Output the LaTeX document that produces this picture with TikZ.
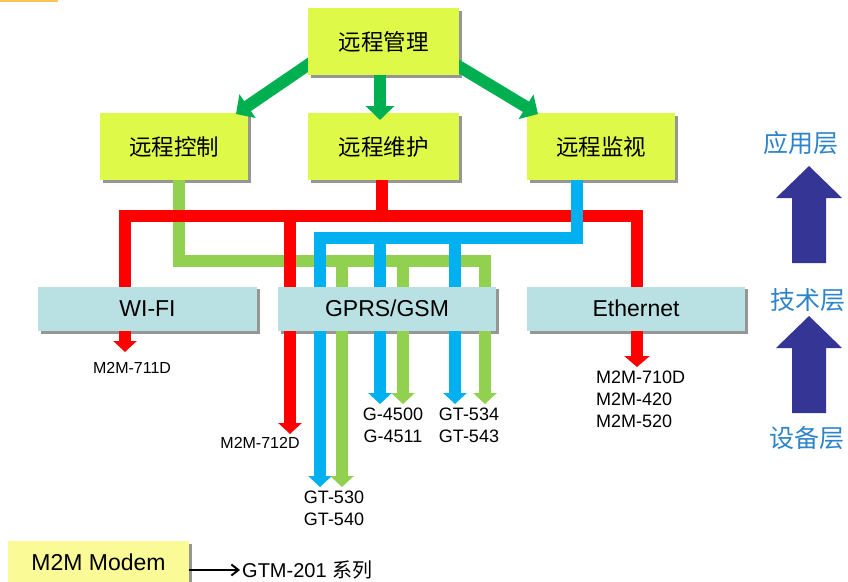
\documentclass[tikz,border=0pt]{standalone}
\usepackage{fontspec}
\setmainfont{Liberation Sans}
\newfontfamily\cjk{Noto Sans CJK SC}
\usetikzlibrary{arrows.meta}
\pgfdeclarelayer{shadowlayer}
\pgfdeclarelayer{linelayer}
\pgfdeclarelayer{toplayer}
\pgfsetlayers{shadowlayer,linelayer,main,toplayer}
\definecolor{boxyellow}{RGB}{223,249,72}
\definecolor{boxblue}{RGB}{185,224,227}
\definecolor{modemyellow}{RGB}{250,250,150}
\definecolor{lred}{RGB}{255,0,0}
\definecolor{lgreen}{RGB}{146,208,80}
\definecolor{lblue}{RGB}{0,176,240}
\definecolor{dgreen}{RGB}{0,176,80}
\definecolor{navy}{RGB}{53,53,150}
\definecolor{lvlblue}{RGB}{46,132,200}
\definecolor{shadowgray}{RGB}{150,150,150}
\definecolor{topline}{RGB}{255,195,90}
\begin{document}
\begin{tikzpicture}[x=1pt,y=-1pt,
  apbox/.style={rectangle, fill=boxyellow, minimum width=150pt, minimum height=67pt, inner sep=0pt, font=\fontsize{22.5}{26}\selectfont\cjk},
  techbox/.style={rectangle, fill=boxblue, minimum width=219pt, minimum height=44pt, inner sep=0pt, font=\fontsize{23}{27}\selectfont},
  modembox/.style={rectangle, fill=modemyellow, minimum width=181pt, minimum height=42pt, inner sep=0pt, font=\fontsize{23}{27}\selectfont},
  conn/.style={line width=11.5pt, line join=miter},
  tip/.style={-{Triangle[width=23pt,length=11pt]}},
  bigconn/.style={line width=12pt, dgreen, -{Triangle[width=28pt,length=14pt]}},
  devlbl/.style={font=\fontsize{18}{22}\selectfont, align=center, inner sep=0pt},
  smalllbl/.style={font=\fontsize{16}{19}\selectfont, inner sep=0pt},
  lvl/.style={font=\fontsize{25}{29}\selectfont\cjk, text=lvlblue, inner sep=0pt},
  layerarrow/.style={fill=navy},
]
\useasboundingbox (0,0) rectangle (848,581);
\fill[topline] (0,0) rectangle (58,1.5);

% boxes
\begin{pgfonlayer}{toplayer}
\node[apbox, minimum width=151pt] (mgmt) at (383.5,41.5) {远程管理};
\end{pgfonlayer}
\node[apbox, minimum width=148pt] (ctrl) at (174,146.5) {远程控制};
\node[apbox, minimum width=151pt] (maint) at (383.5,146.5) {远程维护};
\node[apbox, minimum width=148pt] (mon) at (601,146.5) {远程监视};
\node[techbox] (wifi) at (147.5,308.5) {WI-FI};
\node[techbox, minimum width=218pt] (gprs) at (387,308.5) {GPRS/GSM};
\node[techbox, minimum width=218pt] (eth) at (636,308.5) {Ethernet};
\node[modembox] (modem) at (98.5,562) {M2M Modem};

% shadows
\begin{pgfonlayer}{shadowlayer}
\foreach \n in {mgmt,ctrl,maint,mon,wifi,gprs,eth,modem}
  \fill[shadowgray] ([shift={(3,3)}]\n.south west) rectangle ([shift={(3,3)}]\n.north east);
\end{pgfonlayer}

% device labels
\node[smalllbl] (m711) at (132,368) {M2M-711D};
\node[smalllbl] (m712) at (260,443) {M2M-712D};
\node[devlbl] (gt530) at (334,508) {GT-530\\GT-540};
\node[devlbl] (g4500) at (393,425) {G-4500\\G-4511};
\node[devlbl] (gt534) at (469,425) {GT-534\\GT-543};
\node[devlbl, anchor=west, align=left] (m710) at (596,399.5) {M2M-710D\\M2M-420\\M2M-520};

% arrow tips and junctions
\coordinate (tWifi) at (125,352);
\coordinate (tEth) at (637,367);
\coordinate (tRed) at (290,434);
\coordinate (rbarL) at (125,216);
\coordinate (rbarR) at (637,216);
\coordinate (tB1) at (320,487);
\coordinate (tG1) at (342,487);
\coordinate (tB2) at (380,404);
\coordinate (tG2) at (403,404);
\coordinate (tB3) at (455,404);
\coordinate (tG3) at (485,404);

\begin{pgfonlayer}{linelayer}
% green (from 远程控制)
\draw[conn, lgreen, tip] (179,146) -- (179,261) -- (485,261) -- (tG3);
\draw[conn, lgreen, tip] (342,261) -- (tG1);
\draw[conn, lgreen, tip] (403,261) -- (tG2);
% red (from 远程维护)
\draw[conn, lred] (382,146) -- (382,216);
\draw[conn, lred, {Triangle[width=23pt,length=11pt]}-{Triangle[width=25pt,length=11pt]}] (tWifi) -- (rbarL) -- (rbarR) -- (tEth);
\draw[conn, lred, tip] (290,216) -- (tRed);
% blue (from 远程监视)
\draw[conn, lblue, tip] (577,146) -- (577,238) -- (320,238) -- (tB1);
\draw[conn, lblue, tip] (380,238) -- (tB2);
\draw[conn, lblue, tip] (455,238) -- (tB3);
\end{pgfonlayer}

% top green arrows
\draw[bigconn] (340,43) -- (236,114);
\draw[bigconn] (380,50) -- (380,120);
\draw[bigconn] (425,46) -- (538,114);

% layers
\node[lvl] (app) at (801,143) {应用层};
\node[lvl] (tech) at (808,300) {技术层};
\node[lvl] (dev) at (807,438) {设备层};
\fill[layerarrow] (809,166) -- (842,198) -- (826,198) -- (826,263) -- (792,263) -- (792,198) -- (776,198) -- cycle;
\fill[layerarrow] (809,316) -- (842,348) -- (826,348) -- (826,413) -- (792,413) -- (792,348) -- (776,348) -- cycle;

% modem
\node[anchor=west, inner sep=2pt, font=\fontsize{20}{24}\selectfont] (gtm) at (240,570) {GTM-201 {\cjk 系列}};
\draw[line width=2pt, -{Straight Barb[length=7pt,width=11pt]}] (modem.east |- gtm.west) -- (gtm.west);
\end{tikzpicture}
\end{document}
